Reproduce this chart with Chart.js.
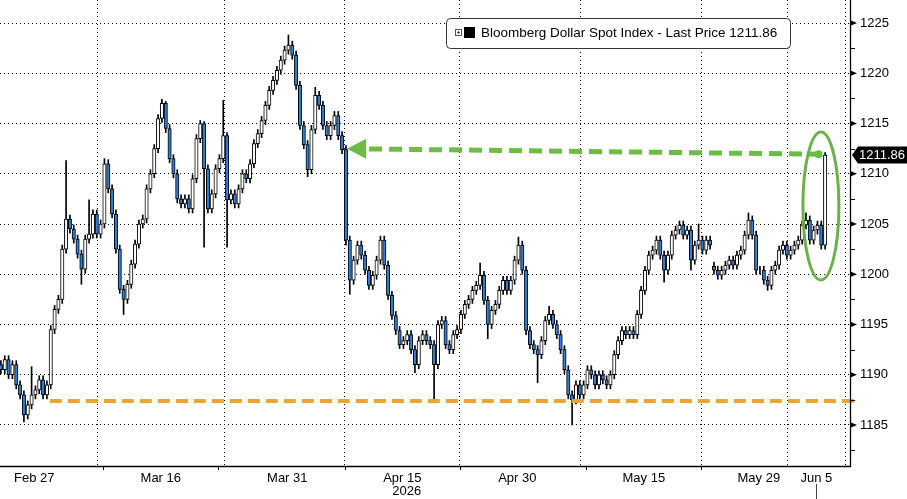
<!DOCTYPE html>
<html><head><meta charset="utf-8">
<script src="https://cdn.jsdelivr.net/npm/chart.js@4/dist/chart.umd.min.js"></script>
<style>html,body{margin:0;padding:0;background:#fff;overflow:hidden}#wrap{width:907px;height:499px;position:relative}</style>
</head><body><div id="wrap"><canvas id="c" width="907" height="499"></canvas></div>
<script>
// ---- data, 3 bars per trading day ----
const opens=[1191.0,1190.5,1191.5,1190.0,1191.0,1189.0,1188.0,1186.0,1187.0,1188.0,
1188.5,1189.5,1188.0,1189.0,1194.5,1196.5,1197.5,1202.5,1205.5,1204.5,
1203.5,1202.0,1200.5,1203.5,1204.0,1206.0,1204.0,1205.0,1211.0,1208.5,
1206.0,1202.5,1198.5,1197.5,1199.0,1201.0,1203.0,1205.0,1205.5,1208.5,
1210.0,1212.5,1215.5,1217.0,1214.5,1211.5,1210.0,1207.5,1207.0,1207.5,
1206.5,1209.5,1213.5,1215.0,1210.5,1206.5,1208.0,1210.5,1211.5,1213.8,
1207.4,1208.0,1207.0,1208.5,1210.0,1209.5,1211.0,1213.0,1214.0,1215.3,
1216.8,1218.3,1219.3,1220.3,1221.3,1222.3,1222.8,1221.8,1218.8,1214.8,
1212.9,1210.4,1214.4,1217.8,1216.8,1214.8,1213.8,1214.8,1215.8,1213.8,
1212.4,1203.4,1199.4,1201.4,1202.9,1201.9,1200.4,1198.9,1199.9,1201.4,
1203.4,1200.9,1197.9,1195.9,1194.4,1193.0,1193.4,1194.0,1192.5,1191.0,
1193.4,1194.0,1193.4,1193.0,1191.0,1195.0,1195.4,1193.0,1192.5,1194.0,
1194.5,1196.0,1197.0,1197.5,1198.4,1198.9,1199.9,1197.4,1195.0,1196.4,
1197.0,1198.4,1199.4,1198.4,1199.4,1201.4,1202.9,1200.4,1194.4,1193.0,
1192.5,1192.0,1193.4,1195.4,1196.0,1195.0,1194.0,1192.5,1190.5,1188.0,
1187.5,1189.0,1188.0,1189.0,1190.5,1190.0,1189.0,1190.0,1189.5,1189.0,
1190.0,1192.0,1193.4,1194.4,1194.0,1194.4,1194.0,1196.0,1198.4,1200.4,
1201.9,1202.4,1203.4,1201.9,1200.4,1201.9,1203.9,1204.4,1204.9,1203.9,
1204.4,1201.4,1202.9,1203.4,1202.4,1203.4,1200.8,1200.4,1199.9,1200.4,
1200.9,1201.4,1200.9,1201.9,1202.4,1203.9,1205.4,1203.9,1200.4,1200.4,
1199.4,1198.9,1200.4,1200.9,1202.4,1202.9,1201.9,1202.4,1202.9,1203.4,
1204.9,1205.4,1203.4,1204.4,1204.9,1202.9];
const closes=[1190.5,1191.5,1190.0,1191.0,1189.0,1188.0,1186.0,1187.0,1188.0,1188.5,
1189.5,1188.0,1189.0,1194.5,1196.5,1197.5,1202.5,1205.5,1204.5,1203.5,
1202.0,1200.5,1203.5,1204.0,1206.0,1204.0,1205.0,1211.0,1208.5,1206.0,
1202.5,1198.5,1197.5,1199.0,1201.0,1203.0,1205.0,1205.5,1208.5,1210.0,
1212.5,1215.5,1217.0,1214.5,1211.5,1210.0,1207.5,1207.0,1207.5,1206.5,
1209.5,1213.5,1215.0,1210.5,1206.5,1208.0,1210.5,1211.5,1213.8,1207.4,
1208.0,1207.0,1208.5,1210.0,1209.5,1211.0,1213.0,1214.0,1215.3,1216.8,
1218.3,1219.3,1220.3,1221.3,1222.3,1222.8,1221.8,1218.8,1214.8,1212.9,
1210.4,1214.4,1217.8,1216.8,1214.8,1213.8,1214.8,1215.8,1213.8,1212.4,
1203.4,1199.4,1201.4,1202.9,1201.9,1200.4,1198.9,1199.9,1201.4,1203.4,
1200.9,1197.9,1195.9,1194.4,1193.0,1193.4,1194.0,1192.5,1191.0,1193.4,
1194.0,1193.4,1193.0,1191.0,1195.0,1195.4,1193.0,1192.5,1194.0,1194.5,
1196.0,1197.0,1197.5,1198.4,1198.9,1199.9,1197.4,1195.0,1196.4,1197.0,
1198.4,1199.4,1198.4,1199.4,1201.4,1202.9,1200.4,1194.4,1193.0,1192.5,
1192.0,1193.4,1195.4,1196.0,1195.0,1194.0,1192.5,1190.5,1188.0,1187.5,
1189.0,1188.0,1189.0,1190.5,1190.0,1189.0,1190.0,1189.5,1189.0,1190.0,
1192.0,1193.4,1194.4,1194.0,1194.4,1194.0,1196.0,1198.4,1200.4,1201.9,
1202.4,1203.4,1201.9,1200.4,1201.9,1203.9,1204.4,1204.9,1203.9,1204.4,
1201.4,1202.9,1203.4,1202.4,1203.4,1202.9,1200.4,1199.9,1200.4,1200.9,
1201.4,1200.9,1201.9,1202.4,1203.9,1205.4,1203.9,1200.4,1200.4,1199.4,
1198.9,1200.4,1200.9,1202.4,1202.9,1201.9,1202.4,1202.9,1203.4,1204.9,
1205.4,1203.4,1204.4,1204.9,1202.9,1211.86];
const highs=[1191.4,1191.9,1191.9,1191.4,1191.4,1189.4,1188.4,1187.4,1190.8,1188.9,
1189.9,1189.9,1189.4,1194.9,1196.9,1197.9,1202.9,1211.3,1205.9,1204.9,
1203.9,1202.4,1203.9,1207.4,1206.4,1206.4,1205.4,1211.5,1211.4,1208.9,
1206.4,1202.9,1198.9,1199.4,1201.4,1203.4,1205.4,1205.9,1208.9,1210.4,
1212.9,1215.9,1217.4,1217.2,1214.9,1211.9,1210.4,1207.9,1207.9,1207.9,
1209.9,1213.9,1215.3,1215.2,1210.9,1208.4,1210.9,1211.9,1217.3,1214.1,
1208.4,1208.4,1208.9,1210.4,1210.4,1211.4,1213.4,1214.4,1215.7,1217.2,
1218.7,1219.7,1220.7,1221.7,1222.7,1223.8,1223.2,1222.2,1219.2,1215.2,
1213.3,1214.8,1218.6,1218.2,1217.2,1215.2,1215.2,1216.2,1216.2,1214.2,
1212.8,1203.8,1201.8,1203.3,1203.3,1202.3,1200.8,1200.3,1201.8,1203.8,
1203.8,1201.3,1198.3,1196.3,1194.8,1193.8,1194.4,1194.4,1192.9,1193.8,
1194.4,1194.4,1193.8,1193.4,1195.4,1195.8,1195.8,1193.4,1194.4,1194.9,
1196.4,1197.4,1197.9,1198.8,1199.3,1201.1,1200.3,1197.8,1196.8,1197.4,
1198.8,1199.8,1199.8,1199.8,1201.8,1203.7,1203.3,1200.8,1194.8,1193.4,
1192.9,1193.8,1195.8,1196.8,1196.4,1195.4,1194.4,1192.9,1190.9,1188.4,
1189.4,1189.4,1189.4,1190.9,1190.9,1190.4,1190.4,1190.4,1189.9,1190.4,
1192.4,1193.8,1194.8,1194.8,1194.8,1194.8,1196.4,1198.8,1200.8,1202.3,
1202.8,1203.8,1203.8,1202.3,1202.3,1204.3,1204.8,1205.3,1205.3,1204.8,
1204.8,1203.3,1205.0,1203.8,1203.8,1203.8,1201.2,1200.8,1200.8,1201.3,
1201.8,1201.8,1202.3,1202.8,1204.3,1206.1,1205.8,1204.3,1200.8,1200.8,
1199.8,1200.8,1201.3,1202.8,1203.3,1203.3,1202.8,1203.3,1203.8,1205.3,
1206.1,1205.8,1204.8,1205.3,1205.3,1212.1];
const lows=[1190.1,1190.1,1189.6,1189.6,1188.6,1187.6,1185.3,1185.6,1186.6,1187.6,
1188.1,1187.6,1187.6,1188.6,1194.1,1196.1,1197.1,1202.1,1204.1,1203.1,
1201.6,1199.0,1200.1,1203.1,1203.6,1203.6,1203.6,1204.6,1208.1,1205.6,
1202.1,1198.1,1196.0,1197.1,1198.6,1200.6,1202.6,1204.6,1205.1,1208.1,
1209.6,1212.1,1215.1,1214.1,1211.1,1209.6,1207.1,1206.6,1206.6,1206.1,
1206.1,1209.1,1213.1,1202.7,1206.1,1206.1,1207.6,1210.1,1211.1,1202.7,
1207.0,1206.6,1206.6,1208.1,1209.1,1209.1,1210.6,1212.6,1213.6,1214.9,
1216.4,1217.9,1218.9,1219.9,1220.9,1221.9,1221.4,1218.4,1214.4,1212.5,
1209.7,1210.0,1214.0,1216.4,1214.4,1213.4,1213.4,1214.4,1213.4,1212.0,
1202.9,1198.0,1199.0,1201.0,1201.5,1200.0,1198.5,1198.5,1199.5,1201.0,
1200.5,1197.5,1195.5,1194.0,1192.6,1192.6,1193.0,1192.1,1190.2,1190.6,
1193.0,1193.0,1192.6,1187.5,1190.6,1194.6,1192.6,1192.1,1192.1,1193.6,
1194.1,1195.6,1196.6,1197.1,1198.0,1198.5,1197.0,1193.6,1194.6,1196.0,
1196.6,1198.0,1198.0,1198.0,1199.0,1201.0,1200.0,1194.0,1192.6,1192.1,
1189.2,1191.6,1193.0,1195.0,1194.6,1193.6,1192.1,1190.1,1187.6,1185.0,
1187.1,1187.6,1187.6,1188.6,1189.6,1188.6,1188.6,1189.1,1188.6,1188.6,
1189.6,1191.6,1193.0,1193.6,1193.6,1193.6,1193.6,1195.6,1198.0,1200.0,
1201.5,1202.0,1201.5,1199.2,1200.0,1201.5,1203.5,1204.0,1203.5,1203.5,
1200.4,1201.0,1202.5,1202.0,1202.0,1202.5,1200.0,1199.5,1199.5,1200.0,
1200.5,1200.5,1200.5,1201.5,1202.0,1203.5,1203.5,1200.0,1200.0,1199.0,
1198.4,1198.5,1200.0,1200.5,1202.0,1201.5,1201.5,1202.0,1202.5,1203.0,
1204.5,1203.0,1203.0,1204.0,1202.5,1202.5];
const firstBarDay=-2.9, barsPerDay=3;               // bar time mapping (trading-day units)
const dateTickDays=[0,11,22,32,42,53,63,68];
const dateTickLabels=['Feb 27','Mar 16','Mar 31','Apr 15','Apr 30','May 15','May 29','Jun 5'];
const minorTickDays=[6,16,27,37,48,58];
const yearLabel='2026';
const priceTicks=[1185,1190,1195,1200,1205,1210,1215,1220,1225];
const minorPriceTicks=[1182.5,1187.5,1192.5,1197.5,1202.5,1207.5,1212.5,1217.5,1222.5];
const lastPrice=1211.86;
const seriesName='Bloomberg Dollar Spot Index - Last Price';
const supportLevel=1187.4;
const arrowFrom={day:27.2,value:1212.5}, arrowTo={day:68.2,value:1211.95};
const ellipseCenter={day:68.4,value:1206.8};

// ---- build datasets ----
const barDay=i=>firstBarDay+i/barsPerDay;
const wickData=closes.map((c,i)=>({x:barDay(i),y:[lows[i],highs[i]]}));
const bodyData=closes.map((c,i)=>({x:barDay(i),y:[opens[i],c]}));
const bodyColors=closes.map((c,i)=>c<opens[i]?'#2f7ee0':'#ffffff');

const FONT='"Liberation Sans", Arial, sans-serif';

const noPad=s=>{s.paddingTop=0;s.paddingBottom=0;s.paddingLeft=0;s.paddingRight=0;};

const overlay={
 id:'overlay',
 afterDatasetsDraw(chart){
  const ctx=chart.ctx, xs=chart.scales.x, ys=chart.scales.y, ca=chart.chartArea;
  ctx.save();
  // orange support line
  ctx.strokeStyle='#e9a43c'; ctx.lineWidth=4; ctx.setLineDash([12,6]);
  const yo=ys.getPixelForValue(supportLevel);
  ctx.beginPath(); ctx.moveTo(xs.getPixelForValue(1.35),yo); ctx.lineTo(ca.right+6,yo); ctx.stroke();
  // green arrow
  const ax1=xs.getPixelForValue(arrowFrom.day), ay1=ys.getPixelForValue(arrowFrom.value);
  const ax2=xs.getPixelForValue(arrowTo.day), ay2=ys.getPixelForValue(arrowTo.value);
  ctx.strokeStyle='#6cbd45'; ctx.lineWidth=5; ctx.setLineDash([13,7]);
  ctx.beginPath(); ctx.moveTo(ax1+22,ay1+0.3); ctx.lineTo(ax2-2,ay2); ctx.stroke();
  ctx.setLineDash([]);
  ctx.fillStyle='#6cbd45';
  ctx.beginPath(); ctx.moveTo(ax1,ay1); ctx.lineTo(ax1+19,ay1-10); ctx.lineTo(ax1+19,ay1+10); ctx.closePath(); ctx.fill();
  ctx.beginPath(); ctx.arc(ax2,ay2,4,0,Math.PI*2); ctx.fill();
  // ellipse
  ctx.strokeStyle='#6cb04a'; ctx.lineWidth=3;
  ctx.beginPath(); ctx.ellipse(xs.getPixelForValue(ellipseCenter.day),ys.getPixelForValue(ellipseCenter.value),18,74,0,0,Math.PI*2); ctx.stroke();
  ctx.restore();
 },
 afterDraw(chart){
  const ctx=chart.ctx, xs=chart.scales.x, ys=chart.scales.y, ca=chart.chartArea;
  ctx.save();
  // axes lines
  ctx.strokeStyle='#000'; ctx.lineWidth=1.3;
  ctx.beginPath(); ctx.moveTo(ca.left,ca.bottom+0.5); ctx.lineTo(ca.right+0.5,ca.bottom+0.5); ctx.lineTo(ca.right+0.5,ca.top); ctx.stroke();
  ctx.lineWidth=1;
  // y ticks
  ctx.fillStyle='#000';
  priceTicks.forEach(v=>{const y=ys.getPixelForValue(v);
    ctx.beginPath(); ctx.moveTo(ca.right+1,y-2.5); ctx.lineTo(ca.right+7,y); ctx.lineTo(ca.right+1,y+2.5); ctx.closePath(); ctx.fill();});
  minorPriceTicks.forEach(v=>{const y=Math.round(ys.getPixelForValue(v))+0.5;
    if(y<ca.top||y>ca.bottom) return;
    ctx.beginPath(); ctx.moveTo(ca.right,y); ctx.lineTo(ca.right+5,y); ctx.stroke();});
  // x minor ticks
  minorTickDays.forEach(d=>{const x=Math.round(xs.getPixelForValue(d))+0.5;
    ctx.beginPath(); ctx.moveTo(x,ca.bottom); ctx.lineTo(x,ca.bottom+4); ctx.stroke();});
  // year label
  ctx.font='13px '+FONT; ctx.textAlign='right'; ctx.textBaseline='middle'; ctx.fillStyle='#000';
  ctx.fillText(yearLabel,xs.getPixelForValue(dateTickDays[3])+19,491);
  // last marker under Jun 5
  const xl=Math.round(xs.getPixelForValue(dateTickDays[dateTickDays.length-1]))+0.5;
  ctx.strokeStyle='#444'; ctx.beginPath(); ctx.moveTo(xl,484); ctx.lineTo(xl,499); ctx.stroke();
  // price tag
  const yp=ys.getPixelForValue(lastPrice);
  ctx.fillStyle='#000';
  ctx.beginPath(); ctx.moveTo(ca.right+2,yp); ctx.lineTo(ca.right+8,yp-8.5); ctx.lineTo(907,yp-8.5); ctx.lineTo(907,yp+8.5); ctx.lineTo(ca.right+8,yp+8.5); ctx.closePath(); ctx.fill();
  ctx.fillStyle='#fff'; ctx.textAlign='left'; ctx.font='13px '+FONT;
  ctx.fillText(lastPrice.toFixed(2),ca.right+9,yp+0.5);
  // legend box
  const lx=446.5, ly=18.5, lw=344, lh=30;
  ctx.fillStyle='#fff'; ctx.strokeStyle='#333'; ctx.lineWidth=1;
  ctx.beginPath(); ctx.roundRect(lx,ly,lw,lh,4); ctx.fill(); ctx.stroke();
  ctx.strokeStyle='#555'; ctx.strokeRect(455.5,29.5,6,6);
  ctx.beginPath(); ctx.moveTo(457,32.5); ctx.lineTo(460,32.5); ctx.moveTo(458.5,31); ctx.lineTo(458.5,34); ctx.stroke();
  ctx.fillStyle='#000'; ctx.fillRect(464,27,11,11);
  let fs=14; ctx.font=fs+'px '+FONT;
  const txt=seriesName+' '+lastPrice.toFixed(2);
  while(ctx.measureText(txt).width>301 && fs>10){fs-=0.25; ctx.font=fs+'px '+FONT;}
  ctx.textAlign='left'; ctx.textBaseline='middle';
  ctx.fillText(txt,481,33.5);
  ctx.restore();
 }
};

new Chart(document.getElementById('c'),{
 type:'bar',
 data:{datasets:[
  {label:'wick',data:wickData,backgroundColor:'#000',borderWidth:0,barThickness:1,grouped:false,order:2},
  {label:seriesName,data:bodyData,backgroundColor:bodyColors,borderColor:'#000',borderWidth:1,borderSkipped:false,barThickness:3.4,grouped:false,order:1}
 ]},
 options:{
  responsive:false,animation:false,devicePixelRatio:1,
  layout:{padding:0},
  plugins:{legend:{display:false},tooltip:{enabled:false},title:{display:false}},
  scales:{
   x:{type:'linear',min:-2.98,max:70.93,offset:false,
      afterBuildTicks:s=>{s.ticks=dateTickDays.map(v=>({value:v}));},
      afterFit:s=>{s.height=33;noPad(s);},
      grid:{color:'#000',lineWidth:1,drawTicks:false},
      border:{display:false,dash:[1,3]},
      ticks:{autoSkip:false,maxRotation:0,padding:5,color:'#000',font:{family:FONT,size:13},
        callback:(v,i)=>dateTickLabels[i]}},
   y:{position:'right',min:1180.92,max:1227.29,
      afterBuildTicks:s=>{s.ticks=priceTicks.map(v=>({value:v}));},
      afterFit:s=>{s.width=57;noPad(s);},
      grid:{color:'#000',lineWidth:1,drawTicks:false},
      border:{display:false,dash:[1,3]},
      ticks:{padding:10,color:'#000',font:{family:FONT,size:13},callback:v=>String(v)}}
  }
 },
 plugins:[overlay]
});
</script></body></html>
